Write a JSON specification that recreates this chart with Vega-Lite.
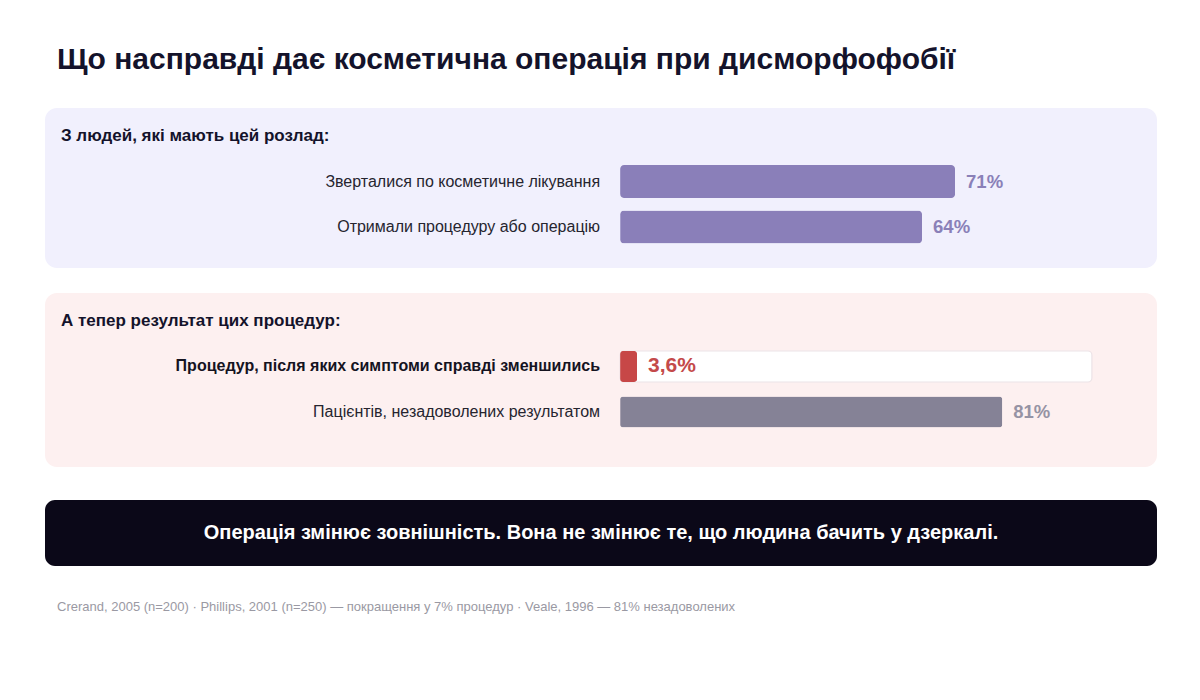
{
  "$schema": "https://vega.github.io/schema/vega-lite/v6.json",
  "background": "white",
  "padding": {"left": 45, "right": 43, "top": 45, "bottom": 0},
  "title": {
    "text": "Що насправді дає косметична операція при дисморфофобії",
    "anchor": "start",
    "dx": 12,
    "offset": 33,
    "fontSize": 30,
    "fontWeight": "bold",
    "color": "#14132b"
  },
  "config": {
    "font": "Liberation Sans",
    "view": {"stroke": null}
  },
  "datasets": {
    "seekers": [
      {"row": "a", "label": "Зверталися по косметичне лікування", "share": 0.71},
      {"row": "b", "label": "Отримали процедуру або операцію", "share": 0.64}
    ],
    "outcomes": [
      {"row": "c", "label": "Процедур, після яких симптоми справді зменшились", "share": 0.036},
      {"row": "d", "label": "Пацієнтів, незадоволених результатом", "share": 0.81}
    ]
  },
  "spacing": 33,
  "vconcat": [
    {
      "spacing": 25,
      "vconcat": [
        {
          "width": 1112,
          "height": 160,
          "view": {"fill": "#f1f0fd", "cornerRadius": 12, "stroke": null},
          "layer": [
            {
              "data": {"values": [{"row": "head", "heading": "З людей, які мають цей розлад:"}]},
              "mark": {"type": "text", "align": "left", "baseline": "middle", "dx": 16, "fontSize": 17, "fontWeight": "bold", "color": "#14132b"},
              "encoding": {
                "x": {"datum": -1.219, "type": "quantitative", "axis": null},
                "y": {"field": "row", "type": "nominal", "axis": null},
                "text": {"field": "heading"}
              }
            },
            {
              "data": {"name": "seekers"},
              "mark": {"type": "bar", "cornerRadius": 4, "color": "#8a7fb9"},
              "encoding": {
                "x": {"field": "share", "type": "quantitative", "axis": null, "scale": {"domain": [-1.219, 1.138], "nice": false, "zero": false}},
                "y": {
                  "field": "row",
                  "type": "nominal",
                  "axis": null,
                  "scale": {"domain": ["head", "a", "b"], "paddingInner": 0.2747, "paddingOuter": 0.396, "align": 0.32}
                }
              }
            },
            {
              "data": {"name": "seekers"},
              "mark": {"type": "text", "align": "right", "baseline": "middle", "dx": -20, "fontSize": 16, "color": "#26252f"},
              "encoding": {
                "x": {"datum": 0, "type": "quantitative", "axis": null},
                "y": {"field": "row", "type": "nominal", "axis": null},
                "text": {"field": "label"}
              }
            },
            {
              "data": {"name": "seekers"},
              "transform": [{"calculate": "replace(format(datum.share, '.1~%'), '.', ',')", "as": "shown"}],
              "mark": {"type": "text", "align": "left", "baseline": "middle", "dx": 11, "fontSize": 18.5, "fontWeight": "bold", "color": "#8a80b8"},
              "encoding": {
                "x": {"field": "share", "type": "quantitative", "axis": null},
                "y": {"field": "row", "type": "nominal", "axis": null},
                "text": {"field": "shown"}
              }
            }
          ]
        },
        {
          "width": 1112,
          "height": 174,
          "view": {"fill": "#fdf0f0", "cornerRadius": 12, "stroke": null},
          "layer": [
            {
              "data": {"values": [{"row": "head", "heading": "А тепер результат цих процедур:"}]},
              "mark": {"type": "text", "align": "left", "baseline": "middle", "dx": 16, "fontSize": 17, "fontWeight": "bold", "color": "#14132b"},
              "encoding": {
                "x": {"datum": -1.219, "type": "quantitative", "axis": null},
                "y": {"field": "row", "type": "nominal", "axis": null},
                "text": {"field": "heading"}
              }
            },
            {
              "data": {"name": "outcomes"},
              "transform": [{"filter": "datum.row === 'c'"}],
              "mark": {"type": "bar", "cornerRadius": 4, "fill": "white", "stroke": "#ece3e7", "strokeWidth": 1.2},
              "encoding": {
                "x": {"datum": 1, "type": "quantitative", "axis": null},
                "y": {"field": "row", "type": "nominal", "axis": null}
              }
            },
            {
              "data": {"name": "outcomes"},
              "mark": {"type": "bar", "cornerRadius": 3},
              "encoding": {
                "x": {"field": "share", "type": "quantitative", "axis": null, "scale": {"domain": [-1.219, 1.138], "nice": false, "zero": false}},
                "y": {
                  "field": "row",
                  "type": "nominal",
                  "axis": null,
                  "scale": {"domain": ["head", "c", "d"], "paddingInner": 0.319, "paddingOuter": 0.571, "align": 0.24}
                },
                "color": {"field": "row", "type": "nominal", "legend": null, "scale": {"domain": ["c", "d"], "range": ["#c74747", "#858296"]}}
              }
            },
            {
              "data": {"name": "outcomes"},
              "transform": [{"filter": "datum.row === 'c'"}],
              "mark": {"type": "text", "align": "right", "baseline": "middle", "dx": -20, "fontSize": 16, "fontWeight": "bold", "color": "#15131f"},
              "encoding": {
                "x": {"datum": 0, "type": "quantitative", "axis": null},
                "y": {"field": "row", "type": "nominal", "axis": null},
                "text": {"field": "label"}
              }
            },
            {
              "data": {"name": "outcomes"},
              "transform": [{"filter": "datum.row === 'd'"}],
              "mark": {"type": "text", "align": "right", "baseline": "middle", "dx": -20, "fontSize": 16, "color": "#26252f"},
              "encoding": {
                "x": {"datum": 0, "type": "quantitative", "axis": null},
                "y": {"field": "row", "type": "nominal", "axis": null},
                "text": {"field": "label"}
              }
            },
            {
              "data": {"name": "outcomes"},
              "transform": [
                {"filter": "datum.row === 'c'"},
                {"calculate": "replace(format(datum.share, '.1~%'), '.', ',')", "as": "shown"}
              ],
              "mark": {"type": "text", "align": "left", "baseline": "middle", "dx": 11, "fontSize": 21, "fontWeight": "bold", "color": "#c44a4a"},
              "encoding": {
                "x": {"field": "share", "type": "quantitative", "axis": null},
                "y": {"field": "row", "type": "nominal", "axis": null},
                "text": {"field": "shown"}
              }
            },
            {
              "data": {"name": "outcomes"},
              "transform": [
                {"filter": "datum.row === 'd'"},
                {"calculate": "replace(format(datum.share, '.1~%'), '.', ',')", "as": "shown"}
              ],
              "mark": {"type": "text", "align": "left", "baseline": "middle", "dx": 11, "fontSize": 18.5, "fontWeight": "bold", "color": "#9693a4"},
              "encoding": {
                "x": {"field": "share", "type": "quantitative", "axis": null},
                "y": {"field": "row", "type": "nominal", "axis": null},
                "text": {"field": "shown"}
              }
            }
          ]
        }
      ]
    },
    {
      "width": 1112,
      "height": 66,
      "view": {"fill": "#0b0818", "cornerRadius": 10, "stroke": null},
      "title": {
        "text": "Crerand, 2005 (n=200) · Phillips, 2001 (n=250) — покращення у 7% процедур · Veale, 1996 — 81% незадоволених",
        "orient": "bottom",
        "anchor": "start",
        "dx": 12,
        "offset": 35,
        "fontSize": 13,
        "fontWeight": "normal",
        "color": "#9a99a3"
      },
      "data": {"values": [{"message": "Операція змінює зовнішність. Вона не змінює те, що людина бачить у дзеркалі."}]},
      "mark": {"type": "text", "align": "center", "baseline": "middle", "fontSize": 20, "fontWeight": "bold", "color": "white"},
      "encoding": {
        "text": {"field": "message"}
      }
    }
  ]
}
